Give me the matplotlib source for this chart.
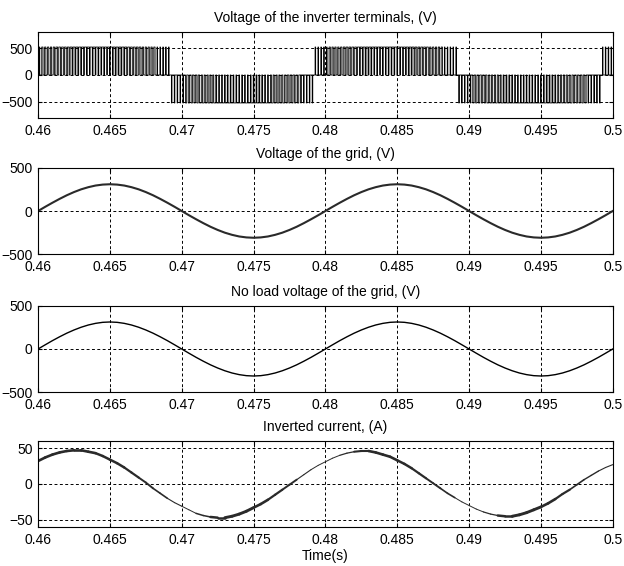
import numpy as np
import matplotlib
matplotlib.use('Agg')
import matplotlib.pyplot as plt
from matplotlib.collections import LineCollection

plt.rcParams['font.family'] = ['Liberation Sans', 'DejaVu Sans']
plt.rcParams['font.size'] = 10

# --- Data ---
t_min, t_max = 0.46, 0.5
x_ticks = [0.46, 0.465, 0.47, 0.475, 0.48, 0.485, 0.49, 0.495, 0.5]
x_labels = ['0.46', '0.465', '0.47', '0.475', '0.48', '0.485', '0.49', '0.495', '0.5']

# sample instants for the sinusoidal curves (every 0.5 ms)
t = np.arange(81) * 0.0005 + 0.46

# grid voltage (V), one value per 0.5 ms
v_grid = [0, 49, 96, 141, 183, 220, 252, 277, 296, 307,
          311, 307, 296, 277, 252, 220, 183, 141, 96, 49,
          0, -49, -96, -141, -183, -220, -252, -277, -296, -307,
          -311, -307, -296, -277, -252, -220, -183, -141, -96, -49,
          0, 49, 96, 141, 183, 220, 252, 277, 296, 307,
          311, 307, 296, 277, 252, 220, 183, 141, 96, 49,
          0, -49, -96, -141, -183, -220, -252, -277, -296, -307,
          -311, -307, -296, -277, -252, -220, -183, -141, -96, -49,
          0]

# no load grid voltage (V)
v_noload = [0, 49, 97, 142, 184, 221, 253, 279, 298, 310,
            314, 310, 298, 279, 253, 221, 184, 142, 97, 49,
            0, -49, -97, -142, -184, -221, -253, -279, -298, -310,
            -314, -310, -298, -279, -253, -221, -184, -142, -97, -49,
            0, 49, 97, 142, 184, 221, 253, 279, 298, 310,
            314, 310, 298, 279, 253, 221, 184, 142, 97, 49,
            0, -49, -97, -142, -184, -221, -253, -279, -298, -310,
            -314, -310, -298, -279, -253, -221, -184, -142, -97, -49,
            0]

# inverter current (A)
i_inv = [32, 37, 41, 44, 46, 47, 47, 45, 43, 39,
         34, 29, 23, 16, 9, 2, -6, -13, -20, -26,
         -31, -36, -41, -44, -46, -47, -47, -45, -42, -38,
         -33, -28, -22, -15, -8, -1, 6, 13, 20, 26,
         31, 36, 40, 43, 45, 46, 46, 44, 41, 38,
         33, 28, 22, 15, 8, 1, -6, -13, -19, -25,
         -30, -35, -39, -42, -44, -45, -45, -43, -40, -36,
         -32, -27, -21, -14, -8, -1, 6, 12, 18, 23,
         27]

# ripple band of the current (pt), one value per ms from 0.46
i_ripple = [1.9, 1.9, 1.9, 1.9, 1.8, 1.8, 1.6, 1.4, 1.2, 0.8,
            0.7, 1.1, 1.8, 2.1, 2.1, 1.9, 1.6, 1.4, 0.8, 0.7,
            0.7, 0.9, 1.5, 1.9, 1.9, 1.8, 1.6, 1.4, 1.2, 0.7,
            0.7, 0.9, 1.8, 2.1, 2.1, 1.9, 1.6, 1.2, 1.0, 0.8]

# PWM of the inverter terminals: one duty and polarity per ms from 0.4592
pwm_start = 0.4592
v_dc = 520
pulses_per_ms = 5
duty_ms = [0.2, 0.45, 0.6, 0.7, 0.75, 0.75, 0.7, 0.6, 0.45, 0.2,
           0.2, 0.45, 0.6, 0.7, 0.75, 0.75, 0.7, 0.6, 0.45, 0.2,
           0.2, 0.45, 0.6, 0.7, 0.75, 0.75, 0.7, 0.6, 0.45, 0.2,
           0.2, 0.45, 0.6, 0.7, 0.75, 0.75, 0.7, 0.6, 0.45, 0.2,
           0.2]
polarity_ms = [1] * 10 + [-1] * 10 + [1] * 10 + [-1] * 10 + [1]

# --- Pulse train ---
period = 1e-3 / pulses_per_ms
t_pwm, v_pwm = [], []
for m, (d, s) in enumerate(zip(duty_ms, polarity_ms)):
    for j in range(pulses_per_ms):
        t0 = pwm_start + m * 1e-3 + j * period
        w = d * period
        rise = t0 + (period - w) / 2
        t_pwm += [t0, rise, rise + w]
        v_pwm += [0, s * v_dc, 0]


def style_axes(ax, ylim, yticks, title):
    ax.set_xlim(t_min, t_max)
    ax.set_ylim(*ylim)
    ax.set_xticks(x_ticks)
    ax.set_xticklabels(x_labels)
    ax.set_yticks(yticks)
    ax.set_title(title, fontsize=10, pad=7)
    ax.grid(True, color='k', linestyle=(0, (3, 2.5)), linewidth=0.7)
    ax.set_axisbelow(True)
    ax.tick_params(direction='in', length=3, top=True, right=True, pad=4)
    for sp in ax.spines.values():
        sp.set_linewidth(0.8)


fig = plt.figure(figsize=(6.24, 5.66), dpi=100)
left, width, height = 0.061, 0.921, 0.152
ax1 = fig.add_axes([left, 0.7915, width, height])
ax2 = fig.add_axes([left, 0.5512, width, height])
ax3 = fig.add_axes([left, 0.3074, width, height])
ax4 = fig.add_axes([left, 0.0689, width, height])

# --- Voltage of the inverter terminals ---
ax1.plot(t_pwm, v_pwm, drawstyle='steps-post', color='k', linewidth=0.6)
style_axes(ax1, (-800, 800), [-500, 0, 500], 'Voltage of the inverter terminals, (V)')

# --- Voltage of the grid ---
ax2.plot(t, v_grid, color='#2a2a2a', linewidth=1.5)
style_axes(ax2, (-500, 500), [-500, 0, 500], 'Voltage of the grid, (V)')

# --- No load voltage ---
ax3.plot(t, v_noload, color='k', linewidth=1.0)
style_axes(ax3, (-500, 500), [-500, 0, 500], 'No load voltage of the grid, (V)')

# --- Inverted current ---
pts = np.column_stack([t, i_inv])
segs = np.stack([pts[:-1], pts[1:]], axis=1)
widths = [i_ripple[k // 2] for k in range(len(segs))]
ax4.add_collection(LineCollection(segs, linewidths=widths, colors='#2a2a2a',
                                  capstyle='round'))
style_axes(ax4, (-60, 60), [-50, 0, 50], 'Inverted current, (A)')
ax4.set_xlabel('Time(s)', fontsize=10, labelpad=2)

fig.savefig('out.png', dpi=100)
